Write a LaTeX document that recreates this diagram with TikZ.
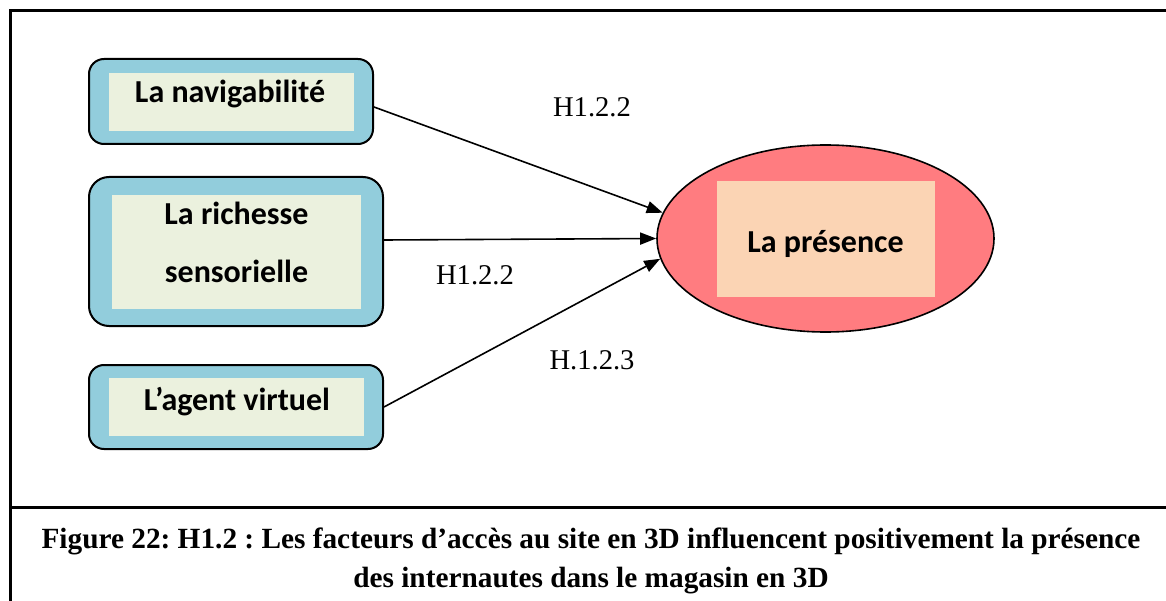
\documentclass[tikz,border=0pt]{standalone}
\usepackage{fontspec}
\setmainfont{Liberation Serif}
\newfontfamily\boxfont{Carlito}
\usetikzlibrary{arrows.meta,shapes.geometric}
\frenchspacing
\definecolor{boxblue}{HTML}{92CDDC}
\definecolor{boxgreen}{HTML}{EBF1DE}
\definecolor{ellred}{HTML}{FF7C80}
\definecolor{ellpeach}{HTML}{FBD4B4}
\tikzset{
  outerbox/.style={draw=black, line width=2pt, fill=boxblue, inner sep=0pt},
  innerbox/.style={fill=boxgreen, inner sep=0pt},
  boxtext/.style={anchor=base, inner sep=0pt, font=\boxfont\bfseries\fontsize{32}{38}\selectfont},
  hlabel/.style={anchor=base, inner sep=0pt, font=\fontsize{28.6}{34}\selectfont},
  captext/.style={anchor=base, inner sep=0pt, font=\bfseries\fontsize{29.3}{35}\selectfont},
  arr/.style={line width=1.6pt, -{Triangle[length=16pt,width=12pt]}},
  frameline/.style={line width=3pt}
}
\begin{document}
\begin{tikzpicture}[x=1pt,y=-1pt]
\useasboundingbox (0,0) rectangle (1166,601);
% frame
\draw[frameline] (1170,11) -- (10,11) -- (10,605);
\draw[frameline] (10,507) -- (1170,507);
% left boxes
\node[outerbox, rounded corners=15pt, minimum width=284pt, minimum height=85pt] (b1) at (231,101.5) {};
\node[innerbox, minimum width=245pt, minimum height=58pt] (i1) at (231.5,102) {};
\node[boxtext] (t1) at (230,103) {La navigabilité};
\node[outerbox, rounded corners=20pt, minimum width=294pt, minimum height=149pt] (b2) at (236,251.5) {};
\node[innerbox, minimum width=249pt, minimum height=114pt] (i2) at (236.5,252) {};
\node[boxtext] (t2a) at (236.5,225) {La richesse};
\node[boxtext] (t2b) at (236.5,283) {sensorielle};
\node[outerbox, rounded corners=15pt, minimum width=294pt, minimum height=84pt] (b3) at (236,407) {};
\node[innerbox, minimum width=255pt, minimum height=58pt] (i3) at (236.5,407) {};
\node[boxtext] (t3) at (237,410) {L’agent virtuel};
% ellipse
\node[ellipse, draw=black, line width=1.6pt, fill=ellred, minimum width=337pt, minimum height=187pt, inner sep=0pt] (ell) at (825.5,238.5) {};
\node[fill=ellpeach, inner sep=0pt, minimum width=218pt, minimum height=116pt] (ei) at (826,239) {};
\node[boxtext] (et) at (825.5,253) {La présence};
% arrows
\draw[arr] ([yshift=-5.5pt]b1.east) -- (ell.171);
\draw[arr] ([yshift=11.5pt]b2.east) -- (ell.180);
\draw[arr] (b3.east) -- (ell.187.6);
% labels
\node[hlabel] (h1) at (592,117) {H1.2.2};
\node[hlabel] (h2) at (475,285) {H1.2.2};
\node[hlabel] (h3) at (592,369) {H.1.2.3};
% caption
\node[captext] (c1) at (591,548) {Figure 22: H1.2 : Les facteurs d’accès au site en 3D influencent positivement la présence};
\node[captext] (c2) at (591,587) {des internautes dans le magasin en 3D};
\end{tikzpicture}
\end{document}
